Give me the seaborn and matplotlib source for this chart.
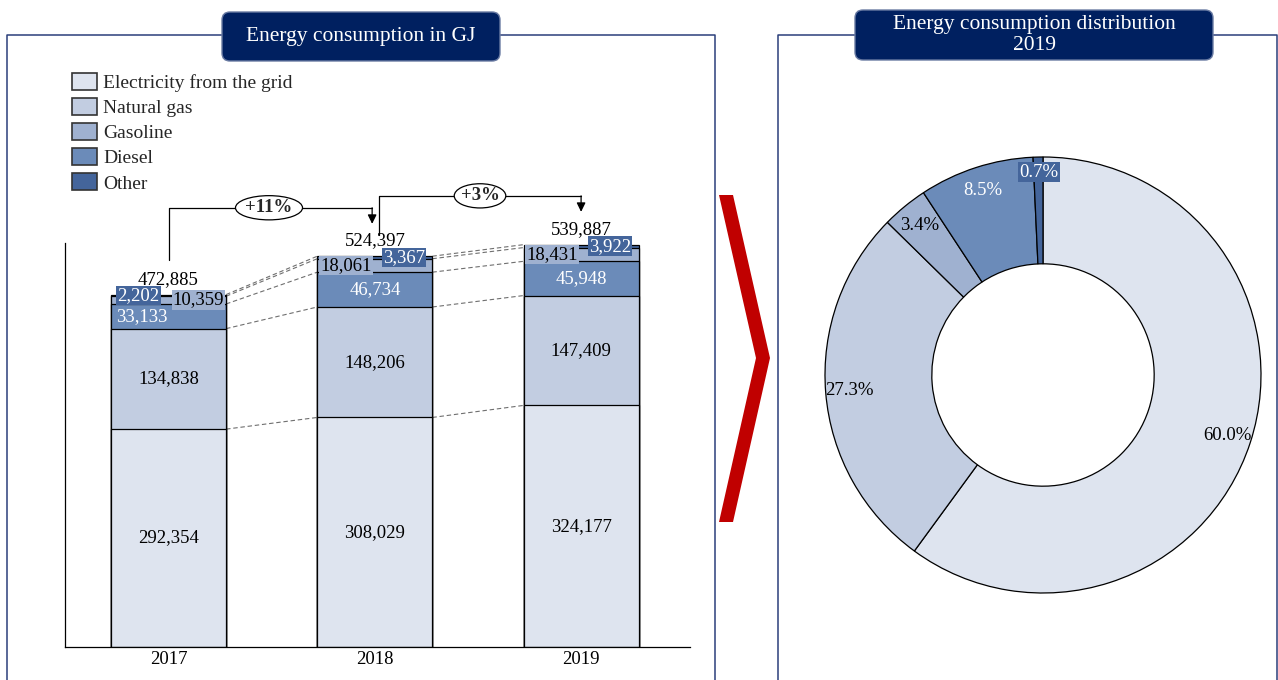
import numpy as np
import pandas as pd
import matplotlib
matplotlib.use("Agg")
import matplotlib.pyplot as plt
import seaborn as sns
from matplotlib.patches import Patch, Ellipse, FancyBboxPatch, Polygon
from matplotlib.lines import Line2D
from matplotlib.transforms import IdentityTransform

# ---------------- data ----------------
years = ["2017", "2018", "2019"]
electricity = [292354, 308029, 324177]
natural_gas = [134838, 148206, 147409]
diesel = [33133, 46734, 45948]
gasoline = [10359, 18061, 18431]
other = [2202, 3367, 3922]
totals = [472885, 524397, 539887]
growth = ["+11%", "+3%"]
legend_labels = ["Electricity from the grid", "Natural gas", "Gasoline", "Diesel", "Other"]

palette = {
    "Electricity from the grid": "#DEE4EF",
    "Natural gas": "#C2CDE1",
    "Gasoline": "#9FB1D0",
    "Diesel": "#6B8BB9",
    "Other": "#44659B",
}

sns.set_theme(style="white")
plt.rcParams["font.family"] = ["Liberation Serif", "DejaVu Serif"]

W, H = 1278, 680
fig = plt.figure(figsize=(W / 100, H / 100), dpi=100)


def fx(x):
    return x / W


def fy(y):
    return 1 - y / H


FS = 13.5
LFS = 14

# ---------------- stacked bar chart ----------------
ax = fig.add_axes([fx(65), fy(647), fx(690) - fx(65), fy(100) - fy(647)])
stack = [
    ("Electricity from the grid", electricity),
    ("Natural gas", natural_gas),
    ("Diesel", diesel),
    ("Gasoline", gasoline),
    ("Other", other),
]
cum = np.cumsum(np.array([s[1] for s in stack]), axis=0)
BW = 0.558
for k in range(len(stack) - 1, -1, -1):
    df = pd.DataFrame({"year": years, "value": cum[k]})
    sns.barplot(data=df, x="year", y="value", color=palette[stack[k][0]],
                saturation=1, width=BW, edgecolor="black", linewidth=0.9,
                errorbar=None, ax=ax, zorder=2)

ax.set_xlim(-0.502, 2.528)
ax.set_ylim(0, 734000)
ax.set_xlabel("")
ax.set_ylabel("")
ax.set_yticks([])
ax.tick_params(axis="x", length=0, pad=3.0, labelsize=FS, colors="black")
for s in ["top", "right"]:
    ax.spines[s].set_visible(False)
for s in ["left", "bottom"]:
    ax.spines[s].set_color("black")
    ax.spines[s].set_linewidth(0.9)
ax.spines["left"].set_bounds(0, 542000)

# segment labels
for j in range(3):
    e, ng, d, g, o = (stack[i][1][j] for i in range(5))
    ax.text(j, e / 2, f"{e:,}", ha="center", va="center", fontsize=FS, color="black", zorder=6)
    ax.text(j, cum[0][j] + ng / 2, f"{ng:,}", ha="center", va="center", fontsize=FS, color="black", zorder=6)
    dx = -0.13 if j == 0 else 0
    ax.text(j + dx, cum[1][j] + d / 2, f"{d:,}", ha="center", va="center", fontsize=FS, color="white", zorder=6)
    gx = 0.145 if j == 0 else -0.14
    ox = -0.145 if j == 0 else 0.14
    ax.text(j + gx, cum[2][j] + g / 2, f"{g:,}", ha="center", va="center", fontsize=FS, color="black", zorder=7,
            bbox=dict(boxstyle="square,pad=0.06", fc=palette["Gasoline"], ec="none"))
    ax.text(j + ox, cum[3][j] + o / 2, f"{o:,}", ha="center", va="center", fontsize=FS, color="white", zorder=7,
            bbox=dict(boxstyle="square,pad=0.06", fc=palette["Other"], ec="none"))
    ax.annotate(f"{totals[j]:,}", (j, totals[j]), xytext=(0, 5), textcoords="offset points",
                ha="center", va="bottom", fontsize=FS, color="black", zorder=8)

# dashed connectors
for j in range(2):
    for k in range(len(stack)):
        ax.plot([j + BW / 2, j + 1 - BW / 2], [cum[k][j], cum[k][j + 1]], ls=(0, (4, 2.5)),
                color="#6f6f6f", lw=0.8, zorder=1)

# growth brackets
brackets = [
    (0.0, totals[0] + 46000, 0.987, totals[1] + 65000, totals[1] + 43400, 0.487, 0.325),
    (1.018, totals[1] + 28600, 2.0, totals[2] + 65500, totals[2] + 44000, 1.51, 0.25),
]
for (x0, y0, x1, ytop, yend, ex, ew), lab in zip(brackets, growth):
    ax.plot([x0, x0, x1], [y0, ytop, ytop], color="black", lw=0.9, zorder=3)
    ax.annotate("", xy=(x1, yend), xytext=(x1, ytop),
                arrowprops=dict(arrowstyle="-|>,head_length=0.45,head_width=0.22", color="black",
                                lw=0.9, shrinkA=0, shrinkB=0), zorder=3)
    ax.add_patch(Ellipse((ex, ytop), width=ew, height=32500, fc="white", ec="black", lw=0.9, zorder=4))
    ax.text(ex, ytop, lab, ha="center", va="center", fontsize=FS, fontweight="bold", zorder=5)

# legend
handles = [Patch(facecolor=palette[l], edgecolor="#333333", linewidth=1.2, label=l) for l in legend_labels]
ax.legend(handles=handles, loc="upper left", bbox_to_anchor=(fx(72), fy(73)),
          bbox_transform=fig.transFigure, frameon=False, fontsize=LFS,
          handlelength=1.3, handleheight=0.98, labelspacing=0.3, handletextpad=0.3,
          borderpad=0, borderaxespad=0)

# ---------------- donut ----------------
R = 218
cx, cy = 1043, 375
axd = fig.add_axes([fx(cx - 1.1 * R), fy(cy + 1.1 * R), 2.2 * R / W, 2.2 * R / H])
pie_vals = [electricity[2], natural_gas[2], gasoline[2], diesel[2], other[2]]
wedges, texts, autotexts = axd.pie(
    pie_vals, colors=[palette[l] for l in legend_labels], startangle=90, counterclock=False,
    wedgeprops=dict(width=0.49, edgecolor="black", linewidth=0.9), autopct="%.1f%%",
    pctdistance=0.89, textprops=dict(fontsize=FS))
axd.set_xlim(-1.1, 1.1)
axd.set_ylim(-1.1, 1.1)
axd.set_aspect("equal")
axd.axis("off")
pct_colors = ["black", "black", "black", "white", "white"]
for t, c in zip(autotexts, pct_colors):
    t.set_color(c)
autotexts[4].set_bbox(dict(boxstyle="square,pad=0.08", fc=palette["Other"], ec="none"))
x4, y4 = autotexts[4].get_position()
autotexts[4].set_position((x4, 0.93))

# ---------------- decorations ----------------
frame_c = "#2B3F7A"
fig.add_artist(Line2D([fx(7), fx(7), fx(715), fx(715)], [fy(681), fy(35), fy(35), fy(681)],
                      color=frame_c, lw=1.1, zorder=1))
fig.add_artist(Line2D([fx(778), fx(778), fx(1276.5), fx(1276.5)], [fy(681), fy(35), fy(35), fy(681)],
                      color=frame_c, lw=1.1, zorder=1))

for (x0, y0, x1, y1) in [(222, 12, 500, 61), (855, 10, 1213, 60)]:
    fig.add_artist(FancyBboxPatch((x0, H - y1), x1 - x0, y1 - y0,
                                  boxstyle="round,pad=0,rounding_size=8",
                                  transform=IdentityTransform(), fc="#002060", ec="#6a7ba3",
                                  lw=1.0, zorder=3))
fig.text(fx(361), fy(37), "Energy consumption in GJ", ha="center", va="center",
         color="white", fontsize=15.5, zorder=4)
fig.text(fx(1034), fy(35), "Energy consumption distribution\n2019", ha="center", va="center",
         color="white", fontsize=15.5, linespacing=1.2, zorder=4)

chev = [(719, 195), (733, 195), (770, 358), (733, 522), (719, 522), (756, 358)]
fig.add_artist(Polygon([(x, H - y) for x, y in chev], closed=True, transform=IdentityTransform(),
                       fc="#C00000", ec="none", zorder=3))

fig.savefig("out.png", dpi=100)
